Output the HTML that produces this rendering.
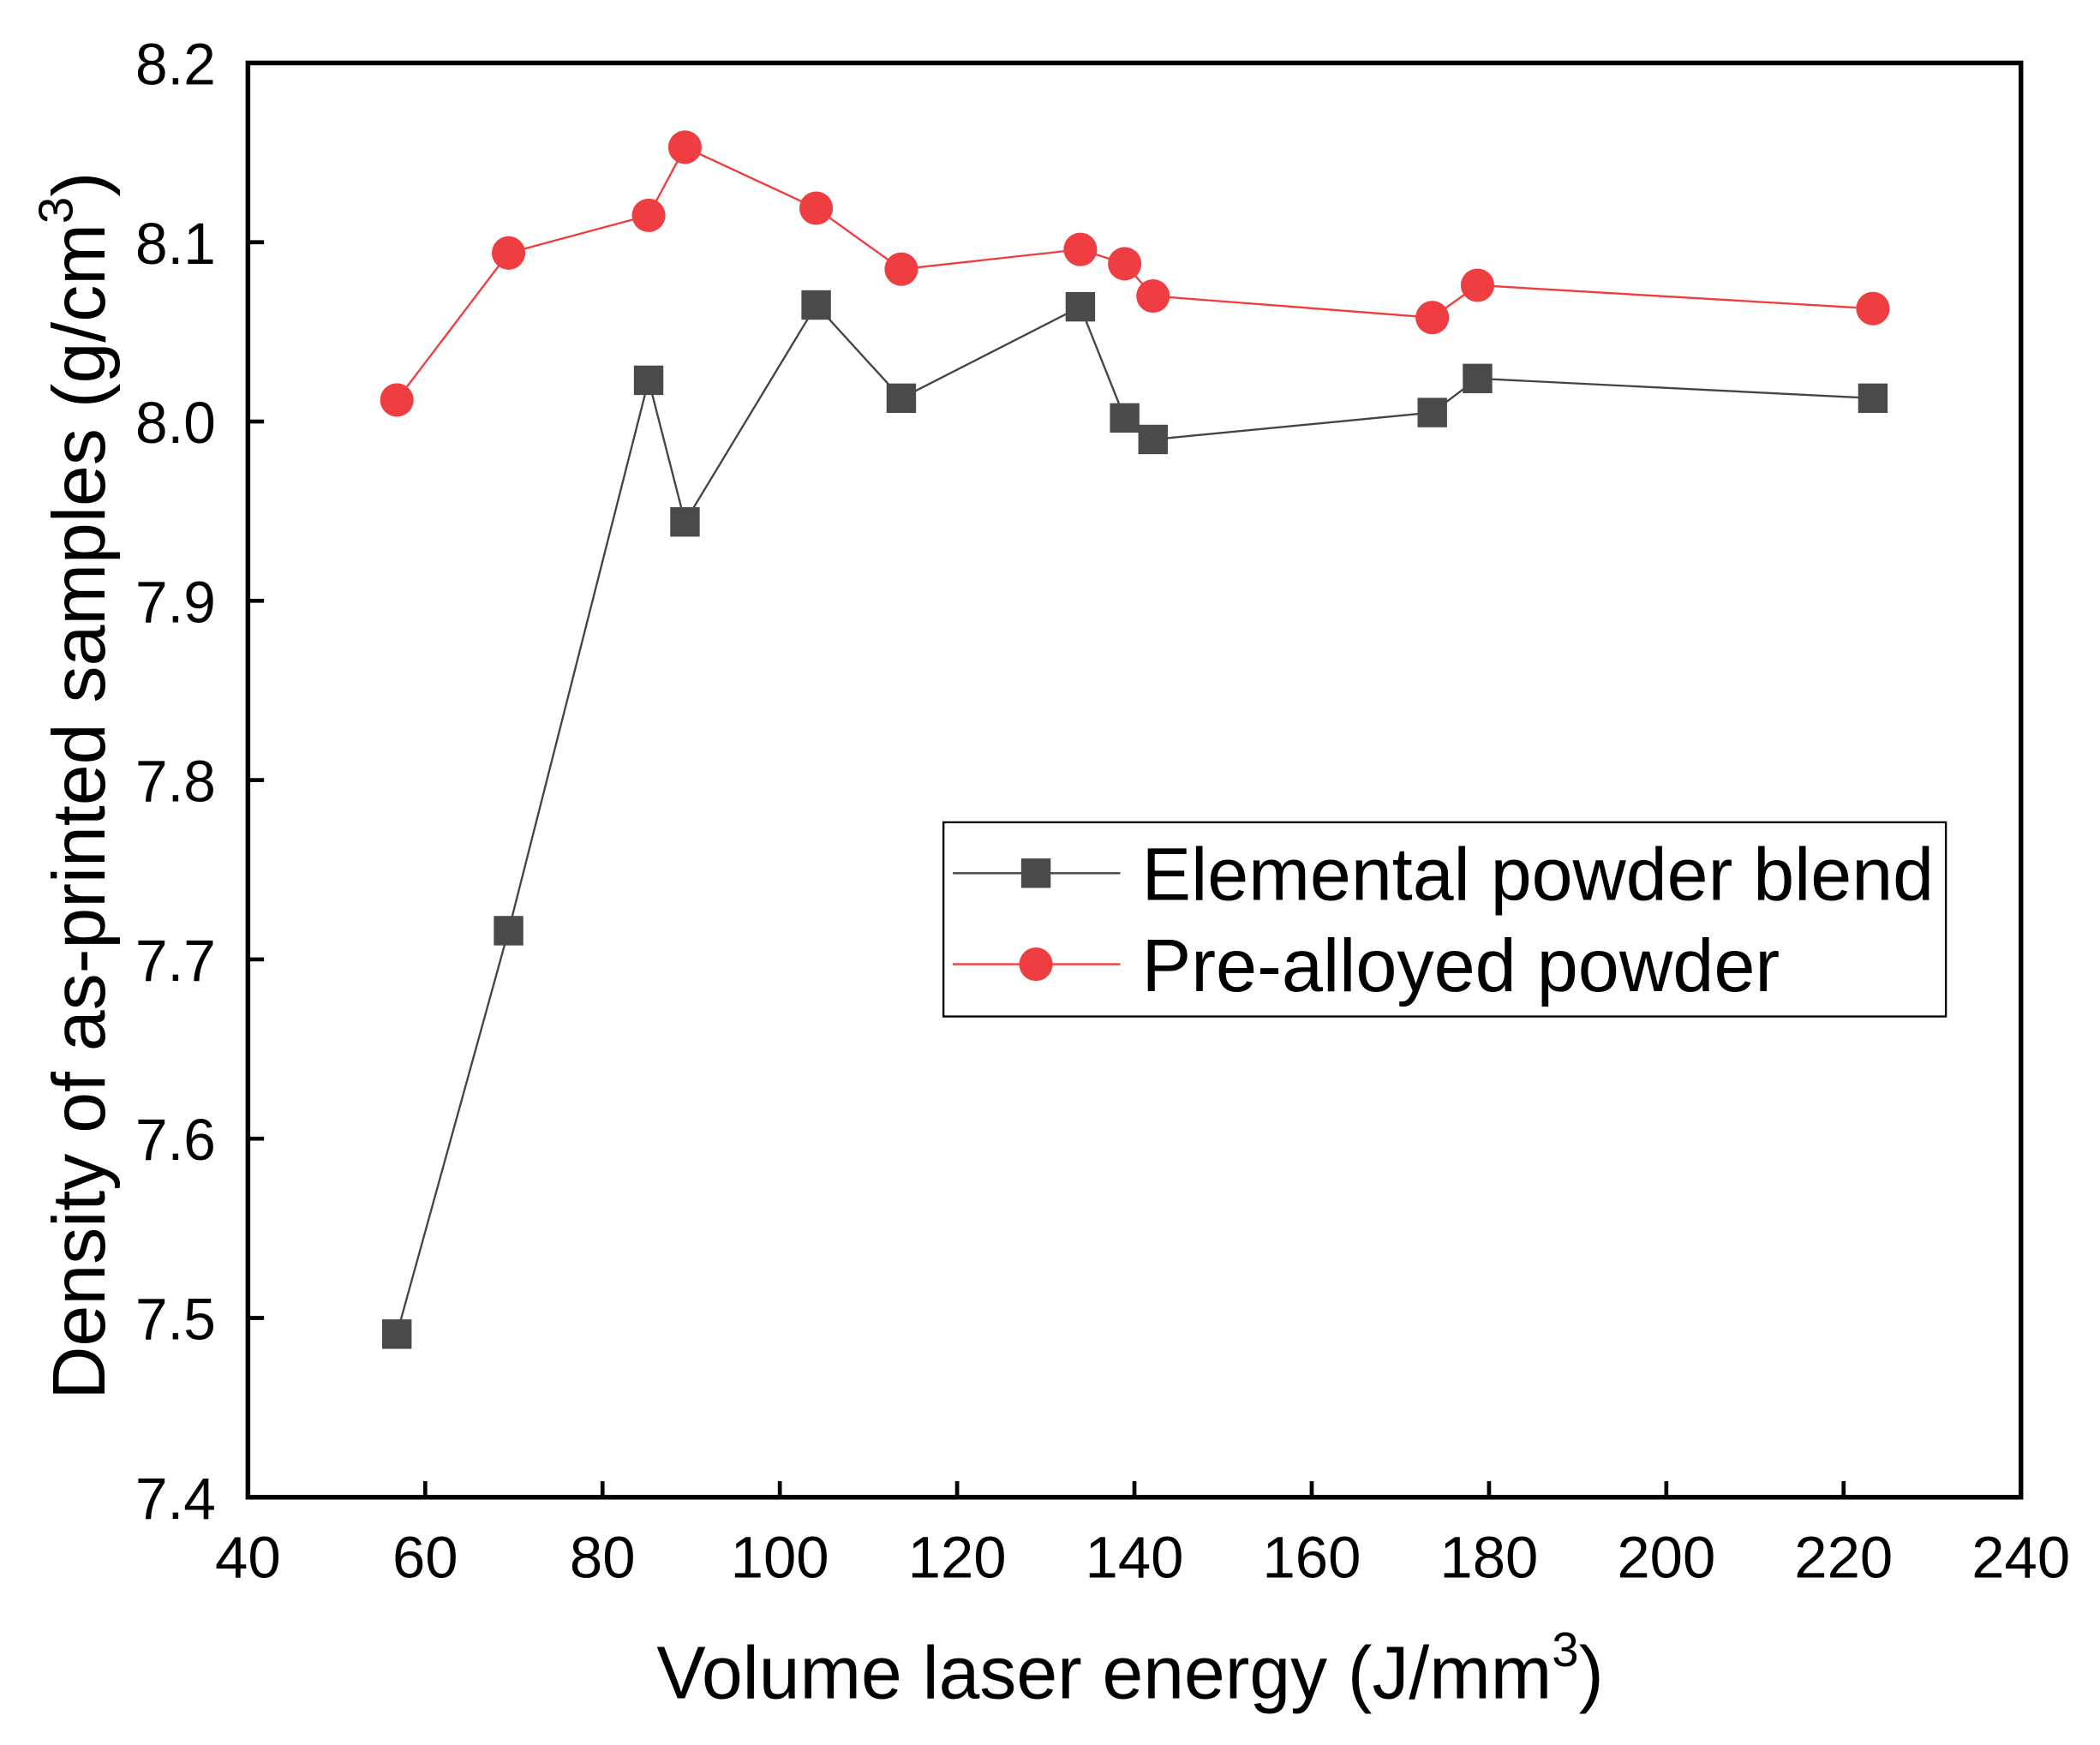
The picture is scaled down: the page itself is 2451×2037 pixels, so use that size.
<!DOCTYPE html>
<html><head><meta charset="utf-8"><style>
html,body{margin:0;padding:0;background:#fff;}
svg{display:block;}
text{font-family:"Liberation Sans",Arial,sans-serif;fill:#000;}
</style></head><body>
<svg id="chart" width="2451" height="2037" viewBox="0 0 1567 1303" preserveAspectRatio="none" xmlns="http://www.w3.org/2000/svg">
<g id="plot"></g>
</svg>
<script>
const xTicks = [40,60,80,100,120,140,160,180,200,220,240];
const yTicks = [7.4,7.5,7.6,7.7,7.8,7.9,8.0,8.1,8.2];
const energy = [56.8,69.4,85.2,89.3,104.1,113.7,133.9,138.9,142.1,173.6,178.7,223.3];
const elemental = [7.491,7.716,8.023,7.944,8.065,8.013,8.064,8.002,7.990,8.005,8.024,8.013];
const prealloyed = [8.012,8.094,8.115,8.153,8.119,8.085,8.096,8.088,8.070,8.058,8.076,8.063];

const L=185,R=1508,T=47,B=1118;
const xs=v=>L+(v-40)/200*(R-L);
const ys=v=>B-(v-7.4)/0.8*(B-T);
const NS='http://www.w3.org/2000/svg';
const g=document.getElementById('plot');
function mk(tag,attrs,parent){const e=document.createElementNS(NS,tag);for(const k in attrs)e.setAttribute(k,attrs[k]);(parent||g).appendChild(e);return e;}

xTicks.forEach(v=>{
  const t=mk('line',{x1:xs(v),x2:xs(v),y1:B,y2:B-12,stroke:'#000','stroke-width':3});
  
  
  const s=String(v);
  const l=mk('text',{x:xs(v),y:B+60,'font-size':44,'text-anchor':'middle',textLength:s.length*24.5,lengthAdjust:'spacingAndGlyphs'});
  l.textContent=s;
  
  
});
yTicks.forEach(v=>{
  const t=mk('line',{x1:L,x2:L+12,y1:ys(v),y2:ys(v),stroke:'#000','stroke-width':3});
  
  
  const l=mk('text',{x:L-24,y:ys(v)+16,'font-size':44,'text-anchor':'end',textLength:60,lengthAdjust:'spacingAndGlyphs'});
  l.textContent=v.toFixed(1);
  
  
});

function series(vals,color,name){
  const pts=energy.map((x,i)=>xs(x)+','+ys(vals[i])).join(' ');
  const p=mk('polyline',{points:pts,fill:'none',stroke:color,'stroke-width':1.5});
  
  
}
series(elemental,'#444','elemental');
series(prealloyed,'#f03c3c','prealloyed');
energy.forEach((x,i)=>{
  const s=mk('rect',{x:xs(x)-11,y:ys(elemental[i])-11,width:22,height:22,fill:'#4a4a4a'});
  
  
});
energy.forEach((x,i)=>{
  const c=mk('circle',{cx:xs(x),cy:ys(prealloyed[i]),r:12.5,fill:'#ef3e42'});
  
  
});

const f=mk('rect',{x:L,y:T,width:R-L,height:B-T,fill:'none',stroke:'#000','stroke-width':3.5});



const xt=mk('text',{x:490,y:1268,'font-size':56});
xt.innerHTML='<tspan textLength="668" lengthAdjust="spacingAndGlyphs">Volume laser energy (J/mm</tspan><tspan dy="-24" font-size="36">3</tspan><tspan dy="24">)</tspan>';


const yt=mk('text',{x:0,y:0,'font-size':56,transform:'translate(78,1045) rotate(-90)'});
yt.innerHTML='<tspan textLength="878" lengthAdjust="spacingAndGlyphs">Density of as-printed samples (g/cm</tspan><tspan dy="-24" font-size="36">3</tspan><tspan dy="24">)</tspan>';



const lg=mk('g',{});


mk('rect',{x:704,y:614,width:748,height:145,fill:'#fff',stroke:'#000','stroke-width':1.5},lg);
mk('line',{x1:711,x2:836,y1:652,y2:652,stroke:'#444','stroke-width':1.5},lg);
mk('rect',{x:762,y:641,width:22,height:22,fill:'#4a4a4a'},lg);
const t1=mk('text',{x:852,y:672,'font-size':56,textLength:591,lengthAdjust:'spacingAndGlyphs'},lg);
t1.textContent='Elemental powder blend';


mk('line',{x1:711,x2:836,y1:720,y2:720,stroke:'#f03c3c','stroke-width':1.5},lg);
mk('circle',{cx:773,cy:720,r:12.5,fill:'#ef3e42'},lg);
const t2=mk('text',{x:852,y:740,'font-size':56,textLength:476,lengthAdjust:'spacingAndGlyphs'},lg);
t2.textContent='Pre-alloyed powder';


</script>
</body></html>
